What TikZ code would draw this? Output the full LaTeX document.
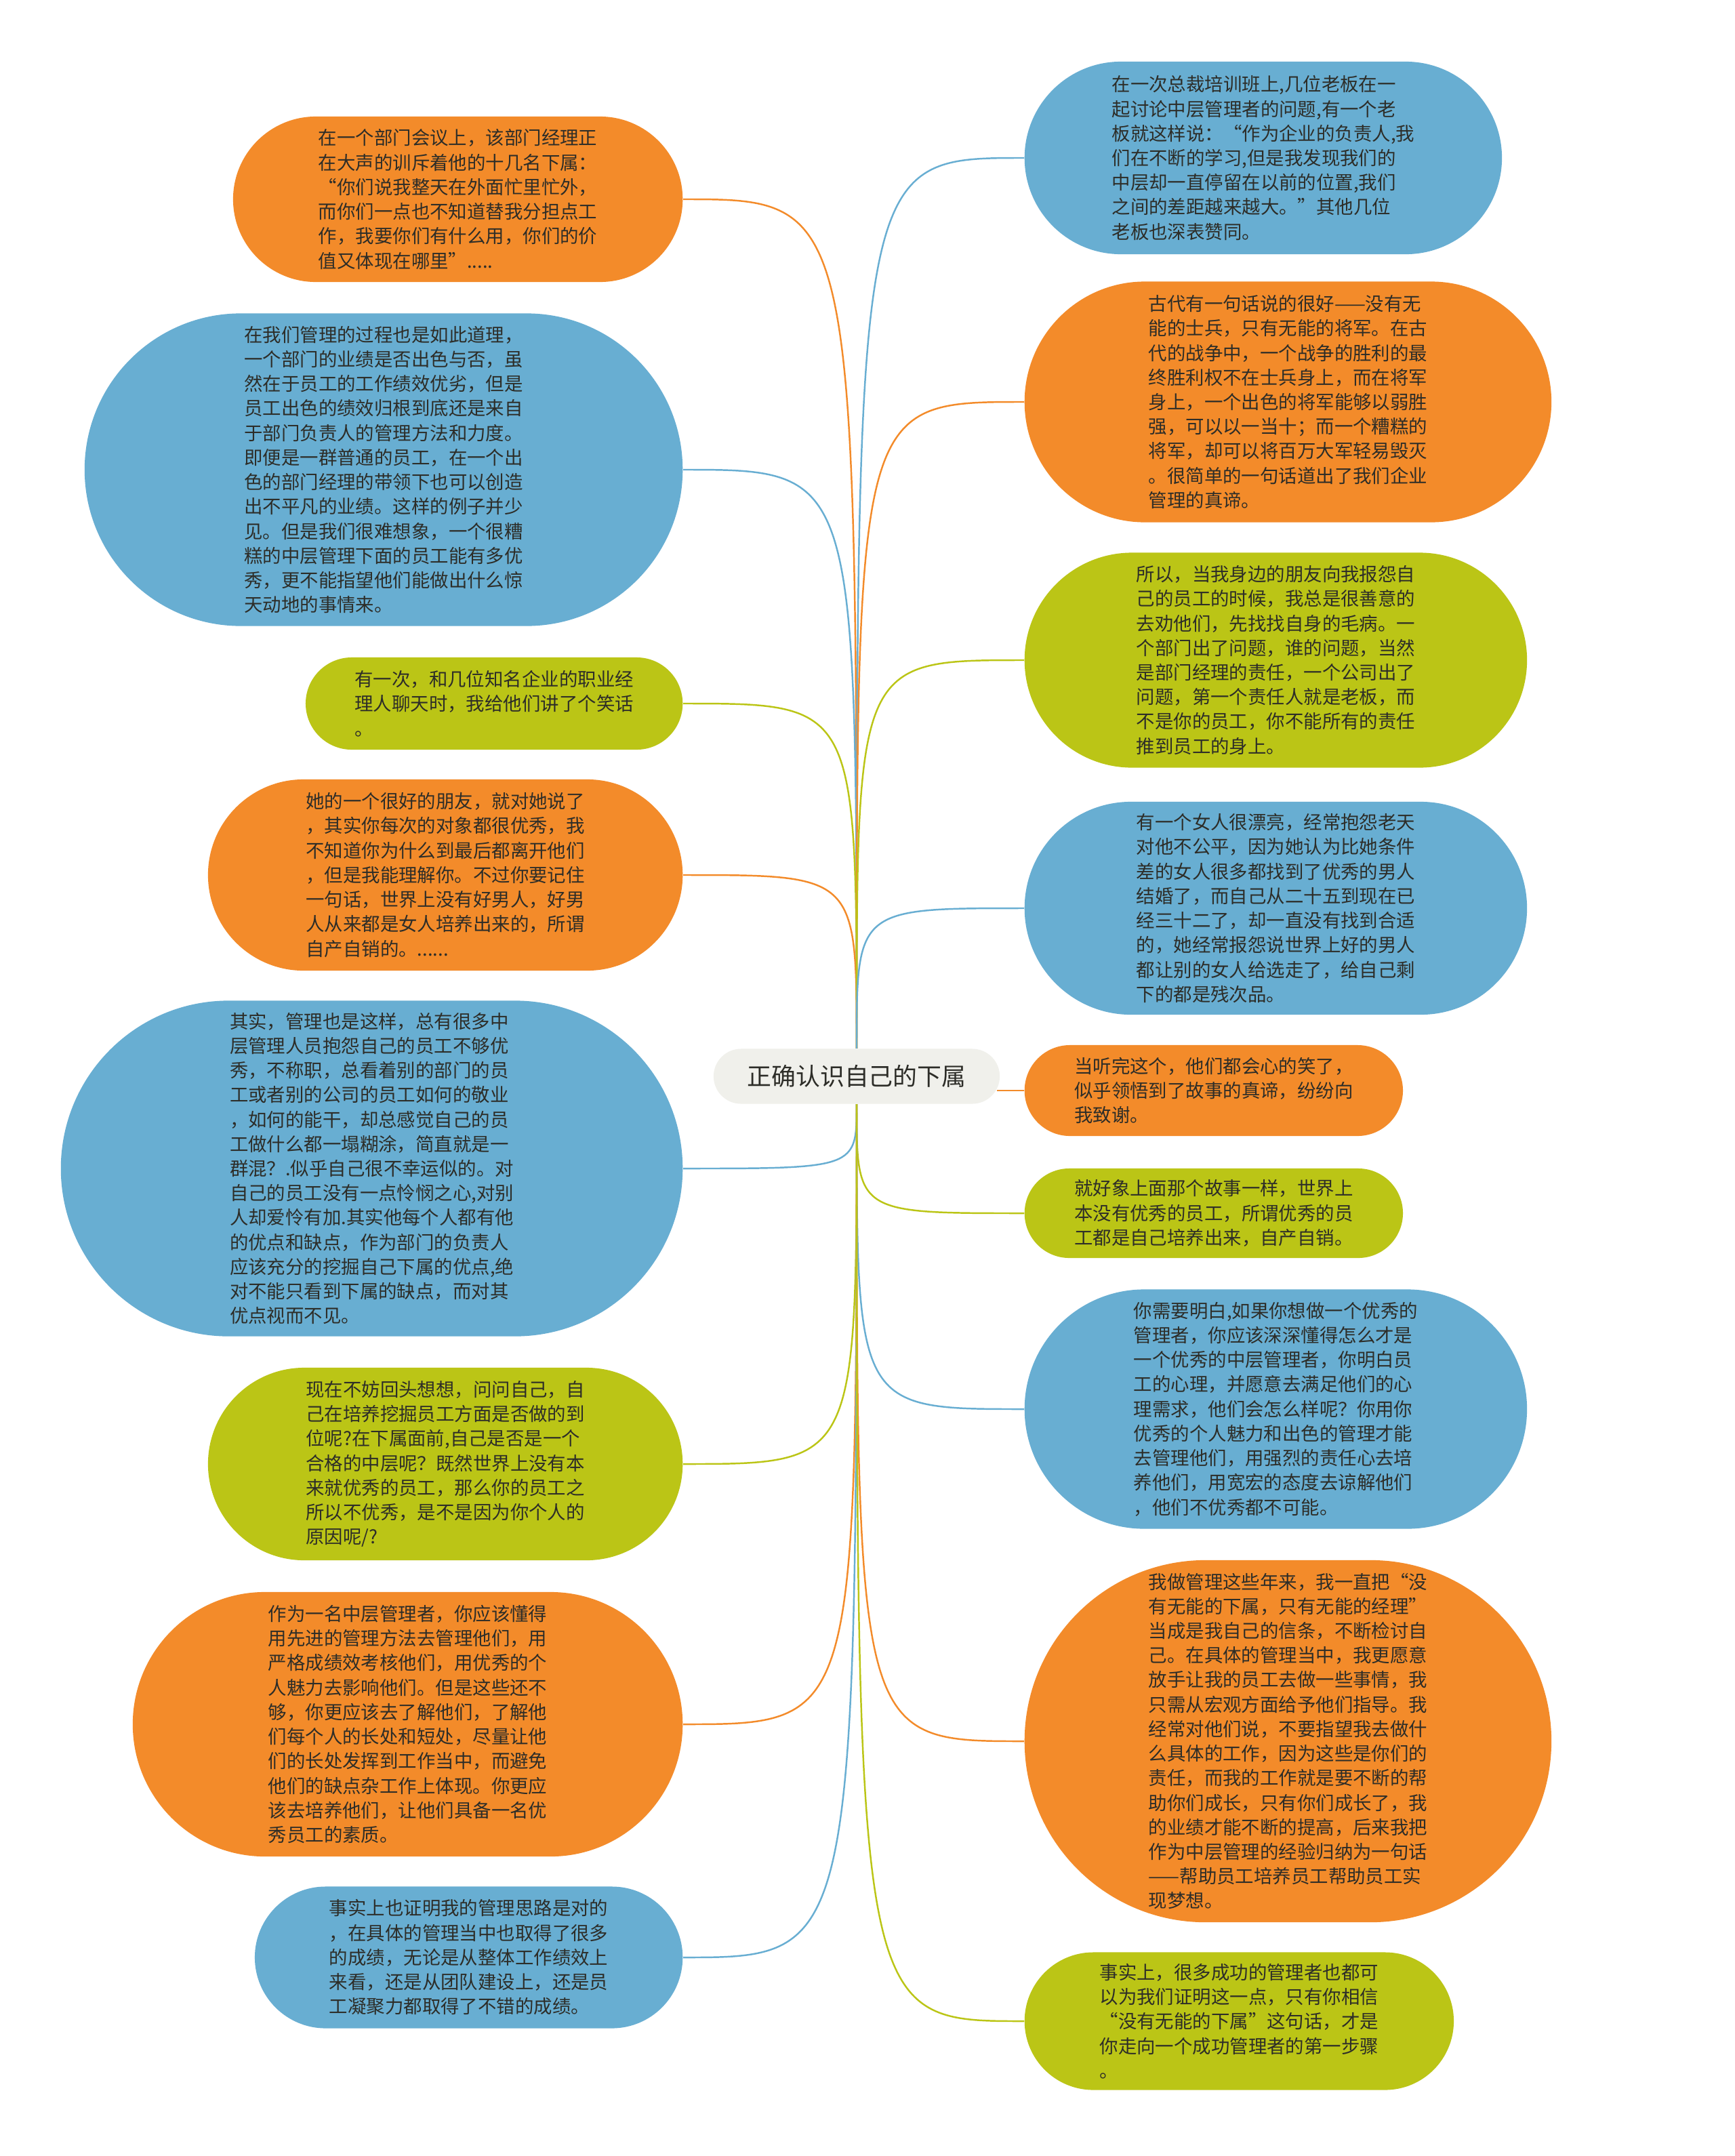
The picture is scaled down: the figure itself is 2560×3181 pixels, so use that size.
\documentclass[tikz,border=0pt]{standalone}
\usepackage{fontspec}
\newfontfamily\cjk{Noto Sans CJK SC}
\usetikzlibrary{shapes.misc}
\definecolor{mmorange}{RGB}{243,139,42}
\definecolor{mmblue}{RGB}{104,174,210}
\definecolor{mmgreen}{RGB}{187,197,22}
\definecolor{mmroot}{RGB}{240,240,235}
\definecolor{mmtext}{RGB}{45,45,40}
\newcommand{\topicfont}{\cjk\fontsize{7.8pt}{10.3pt}\selectfont}
\tikzset{
  topic/.style={rounded rectangle, fill=#1, text=mmtext, align=left, inner sep=0pt, font=\topicfont},
  boxsize/.style 2 args={minimum width=#1cm, minimum height=#2cm},
  rootbox/.style={rounded rectangle, fill=mmroot, text=mmtext, inner sep=0pt,
    minimum width=4.22cm, minimum height=0.81cm, font=\cjk\fontsize{10.2pt}{12pt}\selectfont},
  link/.style={draw=#1, line width=0.7pt},
}

\begin{document}
\begin{tikzpicture}[x=0.01cm,y=-0.01cm]
\fill[white] (0,0) rectangle (2560,3181);
\useasboundingbox (0,0) rectangle (2560,3181);

\node[rootbox] (root) at (1264,1588) {正确认识自己的下属};

% left side
\node[topic=mmorange, boxsize={6.63}{2.44}, anchor=east] (L1) at (1008,294) {在一个部门会议上，该部门经理正\\在大声的训斥着他的十几名下属：\\“你们说我整天在外面忙里忙外，\\而你们一点也不知道替我分担点工\\作，我要你们有什么用，你们的价\\值又体现在哪里”.....};
\node[topic=mmblue, boxsize={8.82}{4.61}, anchor=east] (L2) at (1008,693) {在我们管理的过程也是如此道理，\\一个部门的业绩是否出色与否，虽\\然在于员工的工作绩效优劣，但是\\员工出色的绩效归根到底还是来自\\于部门负责人的管理方法和力度。\\即便是一群普通的员工，在一个出\\色的部门经理的带领下也可以创造\\出不平凡的业绩。这样的例子并少\\见。但是我们很难想象，一个很糟\\糕的中层管理下面的员工能有多优\\秀，更不能指望他们能做出什么惊\\天动地的事情来。};
\node[topic=mmgreen, boxsize={5.56}{1.36}, anchor=east] (L3) at (1008,1038) {有一次，和几位知名企业的职业经\\理人聊天时，我给他们讲了个笑话\\。};
\node[topic=mmorange, boxsize={7.00}{2.82}, anchor=east] (L4) at (1008,1291) {她的一个很好的朋友，就对她说了\\，其实你每次的对象都很优秀，我\\不知道你为什么到最后都离开他们\\，但是我能理解你。不过你要记住\\一句话，世界上没有好男人，好男\\人从来都是女人培养出来的，所谓\\自产自销的。......};
\node[topic=mmblue, boxsize={9.17}{4.95}, anchor=east] (L5) at (1008,1724) {其实，管理也是这样，总有很多中\\层管理人员抱怨自己的员工不够优\\秀，不称职，总看着别的部门的员\\工或者别的公司的员工如何的敬业\\，如何的能干，却总感觉自己的员\\工做什么都一塌糊涂，简直就是一\\群混？.似乎自己很不幸运似的。对\\自己的员工没有一点怜悯之心,对别\\人却爱怜有加.其实他每个人都有他\\的优点和缺点，作为部门的负责人\\应该充分的挖掘自己下属的优点,绝\\对不能只看到下属的缺点，而对其\\优点视而不见。};
\node[topic=mmgreen, boxsize={7.00}{2.84}, anchor=east] (L6) at (1008,2160) {现在不妨回头想想，问问自己，自\\己在培养挖掘员工方面是否做的到\\位呢?在下属面前,自己是否是一个\\合格的中层呢？既然世界上没有本\\来就优秀的员工，那么你的员工之\\所以不优秀，是不是因为你个人的\\原因呢/?};
\node[topic=mmorange, boxsize={8.11}{3.90}, anchor=east] (L7) at (1008,2544) {作为一名中层管理者，你应该懂得\\用先进的管理方法去管理他们，用\\严格成绩效考核他们，用优秀的个\\人魅力去影响他们。但是这些还不\\够，你更应该去了解他们，了解他\\们每个人的长处和短处，尽量让他\\们的长处发挥到工作当中，而避免\\他们的缺点杂工作上体现。你更应\\该去培养他们，让他们具备一名优\\秀员工的素质。};
\node[topic=mmblue, boxsize={6.31}{2.09}, anchor=east] (L8) at (1008,2888) {事实上也证明我的管理思路是对的\\，在具体的管理当中也取得了很多\\的成绩，无论是从整体工作绩效上\\来看，还是从团队建设上，还是员\\工凝聚力都取得了不错的成绩。};

% right side
\node[topic=mmblue, boxsize={7.04}{2.84}, anchor=west] (R1) at (1511,233) {在一次总裁培训班上,几位老板在一\\起讨论中层管理者的问题,有一个老\\板就这样说：“作为企业的负责人,我\\们在不断的学习,但是我发现我们的\\中层却一直停留在以前的位置,我们\\之间的差距越来越大。”其他几位\\老板也深表赞同。};
\node[topic=mmorange, boxsize={7.77}{3.55}, anchor=west] (R2) at (1511,593) {古代有一句话说的很好——没有无\\能的士兵，只有无能的将军。在古\\代的战争中，一个战争的胜利的最\\终胜利权不在士兵身上，而在将军\\身上，一个出色的将军能够以弱胜\\强，可以以一当十；而一个糟糕的\\将军，却可以将百万大军轻易毁灭\\。很简单的一句话道出了我们企业\\管理的真谛。};
\node[topic=mmgreen, boxsize={7.41}{3.17}, anchor=west] (R3) at (1511,974) {所以，当我身边的朋友向我报怨自\\己的员工的时候，我总是很善意的\\去劝他们，先找找自身的毛病。一\\个部门出了问题，谁的问题，当然\\是部门经理的责任，一个公司出了\\问题，第一个责任人就是老板，而\\不是你的员工，你不能所有的责任\\推到员工的身上。};
\node[topic=mmblue, boxsize={7.41}{3.14}, anchor=west] (R4) at (1511,1340) {有一个女人很漂亮，经常抱怨老天\\对他不公平，因为她认为比她条件\\差的女人很多都找到了优秀的男人\\结婚了，而自己从二十五到现在已\\经三十二了，却一直没有找到合适\\的，她经常报怨说世界上好的男人\\都让别的女人给选走了，给自己剩\\下的都是残次品。};
\node[topic=mmorange, boxsize={5.58}{1.34}, anchor=west] (R5) at (1511,1609) {当听完这个，他们都会心的笑了，\\似乎领悟到了故事的真谛，纷纷向\\我致谢。};
\node[topic=mmgreen, boxsize={5.58}{1.32}, anchor=west] (R6) at (1511,1790) {就好象上面那个故事一样，世界上\\本没有优秀的员工，所谓优秀的员\\工都是自己培养出来，自产自销。};
\node[topic=mmblue, boxsize={7.41}{3.53}, anchor=west] (R7) at (1511,2079) {你需要明白,如果你想做一个优秀的\\管理者，你应该深深懂得怎么才是\\一个优秀的中层管理者，你明白员\\工的心理，并愿意去满足他们的心\\理需求，他们会怎么样呢？你用你\\优秀的个人魅力和出色的管理才能\\去管理他们，用强烈的责任心去培\\养他们，用宽宏的态度去谅解他们\\，他们不优秀都不可能。};
\node[topic=mmorange, boxsize={7.77}{5.34}, anchor=west] (R8) at (1511,2569) {我做管理这些年来，我一直把“没\\有无能的下属，只有无能的经理”\\当成是我自己的信条，不断检讨自\\己。在具体的管理当中，我更愿意\\放手让我的员工去做一些事情，我\\只需从宏观方面给予他们指导。我\\经常对他们说，不要指望我去做什\\么具体的工作，因为这些是你们的\\责任，而我的工作就是要不断的帮\\助你们成长，只有你们成长了，我\\的业绩才能不断的提高，后来我把\\作为中层管理的经验归纳为一句话\\——帮助员工培养员工帮助员工实\\现梦想。};
\node[topic=mmgreen, boxsize={6.33}{2.03}, anchor=west] (R9) at (1511,2982) {事实上，很多成功的管理者也都可\\以为我们证明这一点，只有你相信\\“没有无能的下属”这句话，才是\\你走向一个成功管理者的第一步骤\\。};

% connectors
\foreach \n/\c in {L1/mmorange, L2/mmblue, L3/mmgreen, L4/mmorange}
  \draw[link=\c] (root.north) .. controls (root.north |- \n.east) .. (\n.east);
\foreach \n/\c in {R1/mmblue, R2/mmorange, R3/mmgreen, R4/mmblue}
  \draw[link=\c] (root.north) .. controls (root.north |- \n.west) .. (\n.west);
\foreach \n/\c in {L5/mmblue, L6/mmgreen, L7/mmorange, L8/mmblue}
  \draw[link=\c] (root.south) .. controls (root.south |- \n.east) .. (\n.east);
\foreach \n/\c in {R6/mmgreen, R7/mmblue, R8/mmorange, R9/mmgreen}
  \draw[link=\c] (root.south) .. controls (root.south |- \n.west) .. (\n.west);
\draw[link=mmorange] (R5.west) -- ([xshift=-1.3pt]root.east |- R5.west);
\end{tikzpicture}
\end{document}
